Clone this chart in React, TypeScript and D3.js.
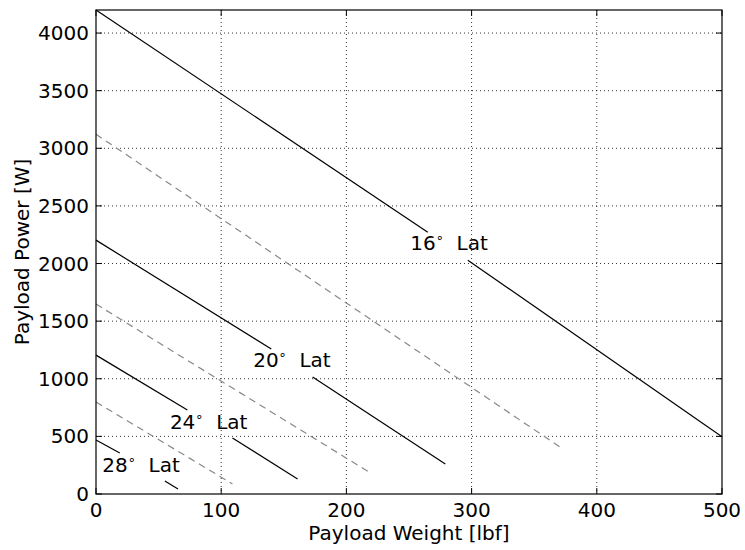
import React from "react";
import * as d3 from "d3";

const width = 745;
const height = 550;
const margin = { top: 10, right: 23, bottom: 56, left: 96 };

const xTicks = [0, 100, 200, 300, 400, 500];
const yTicks = [0, 500, 1000, 1500, 2000, 2500, 3000, 3500, 4000];

// Solid latitude lines: [weight, power] pairs, split around the inline label
const latitudes = ["16", "20", "24", "28"];
const solidLeft: [number, number][][] = [
  [[0, 4200], [265, 2272]],
  [[0, 2203], [140, 1258]],
  [[0, 1205], [73, 729]],
  [[0, 468], [19, 356]],
];
const solidRight: [number, number][][] = [
  [[297, 2029], [500, 497]],
  [[173, 1015], [279, 260]],
  [[109, 486], [161, 130]],
  [[55, 113], [65.5, 43]],
];
const labelWeight = [282, 156.5, 90, 36];
const labelPower = [2177, 1162, 624, 252];

// Dashed intermediate lines
const dashedLines: [number, number][][] = [
  [[0, 3122], [373, 390]],
  [[0, 1648], [218, 191]],
  [[0, 798], [109, 87]],
];

export default function App() {
  const iw = width - margin.left - margin.right;
  const ih = height - margin.top - margin.bottom;
  const x = d3.scaleLinear().domain([0, 500]).range([0, iw]);
  const y = d3.scaleLinear().domain([0, 4200]).range([ih, 0]);
  const line = d3
    .line<[number, number]>()
    .x((d) => x(d[0]))
    .y((d) => y(d[1]));
  const font = "'DejaVu Sans', sans-serif";
  const fs = 20;

  return (
    <svg
      width={width}
      height={height}
      style={{ position: "absolute", left: 0, top: 0, background: "#fff" }}
      fontFamily={font}
    >
      <g transform={`translate(${margin.left},${margin.top})`}>
        {/* grid */}
        {xTicks.slice(1, -1).map((t) => (
          <line key={"gx" + t} x1={x(t)} x2={x(t)} y1={0} y2={ih} stroke="#000" strokeWidth={0.8} strokeDasharray="1,3" />
        ))}
        {yTicks.slice(1).map((t) => (
          <line key={"gy" + t} x1={0} x2={iw} y1={y(t)} y2={y(t)} stroke="#000" strokeWidth={0.8} strokeDasharray="1,3" />
        ))}
        {/* dashed lines */}
        {dashedLines.map((d, i) => (
          <path key={"d" + i} d={line(d) || ""} fill="none" stroke="#888" strokeWidth={1.2} strokeDasharray="7,5" />
        ))}
        {/* solid lines */}
        {latitudes.map((lat, i) => (
          <g key={"s" + lat}>
            <path d={line(solidLeft[i]) || ""} fill="none" stroke="#000" strokeWidth={1.2} />
            <path d={line(solidRight[i]) || ""} fill="none" stroke="#000" strokeWidth={1.2} />
            <text
              x={x(labelWeight[i])}
              y={y(labelPower[i])}
              dy="0.35em"
              textAnchor="middle"
              fontSize={fs}
              fill="#000"
            >
              {lat}
              <tspan fontSize={13} dy="-0.6em">∘</tspan>
              <tspan dy="0.39em" xmlSpace="preserve">{"  Lat"}</tspan>
            </text>
          </g>
        ))}
        {/* ticks */}
        {xTicks.map((t) => (
          <g key={"tx" + t}>
            <line x1={x(t)} x2={x(t)} y1={ih} y2={ih - 6} stroke="#000" />
            <line x1={x(t)} x2={x(t)} y1={0} y2={6} stroke="#000" />
            <text x={x(t)} y={ih + 23} textAnchor="middle" fontSize={fs} fill="#000">
              {t}
            </text>
          </g>
        ))}
        {yTicks.map((t) => (
          <g key={"ty" + t}>
            <line x1={0} x2={6} y1={y(t)} y2={y(t)} stroke="#000" />
            <line x1={iw - 6} x2={iw} y1={y(t)} y2={y(t)} stroke="#000" />
            <text x={-7} y={y(t)} dy="0.35em" textAnchor="end" fontSize={fs} fill="#000">
              {t}
            </text>
          </g>
        ))}
        <rect x={0} y={0} width={iw} height={ih} fill="none" stroke="#000" strokeWidth={1.2} />
        <text x={iw / 2} y={ih + 46} textAnchor="middle" fontSize={fs} fill="#000">
          Payload Weight [lbf]
        </text>
        <text
          transform={`translate(${-67},${ih / 2}) rotate(-90)`}
          textAnchor="middle"
          fontSize={fs}
          fill="#000"
        >
          Payload Power [W]
        </text>
      </g>
    </svg>
  );
}
